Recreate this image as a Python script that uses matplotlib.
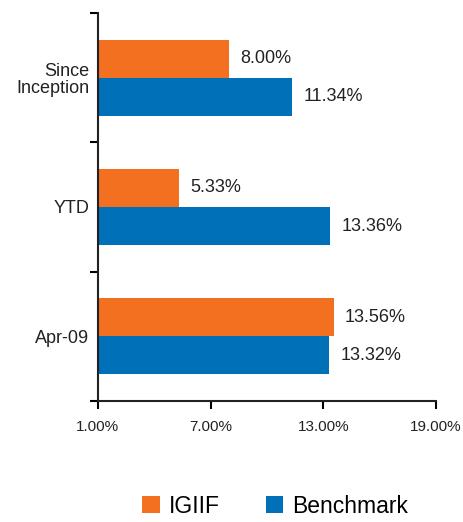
import matplotlib.pyplot as plt
import numpy as np

plt.rcParams['font.family'] = ['Liberation Sans', 'DejaVu Sans']

categories = ['Since\nInception', 'YTD', 'Apr-09']
igiif = [8.00, 5.33, 13.56]
benchmark = [11.34, 13.36, 13.32]
xticks = [1, 7, 13, 19]

orange = '#F37021'
blue = '#0070B8'

fig = plt.figure(figsize=(4.64, 5.22), dpi=100)
ax = fig.add_axes([0.211, 0.232, 0.729, 0.743])

y = np.arange(len(categories))
h = 0.295
b1 = ax.barh(y - h / 2, np.array(igiif) - 1, h, left=1, color=orange, label='IGIIF')
b2 = ax.barh(y + h / 2, np.array(benchmark) - 1, h, left=1, color=blue, label='Benchmark')

ax.bar_label(b1, labels=['%.2f%%' % v for v in igiif], padding=8, fontsize=13, color='#222222')
ax.bar_label(b2, labels=['%.2f%%' % v for v in benchmark], padding=8, fontsize=13, color='#222222')

ax.set_xlim(1, 19)
ax.set_ylim(len(categories) - 0.5, -0.5)
ax.set_xticks(xticks)
ax.set_xticklabels(['%.2f%%' % v for v in xticks], fontsize=11, color='#222222')
ax.set_yticks(y)
ax.set_yticklabels(categories, fontsize=13, color='#222222', linespacing=1.05)
ax.set_yticks(np.arange(len(categories) + 1) - 0.5, minor=True)
ax.tick_params(axis='y', which='major', length=0, pad=6)
ax.tick_params(axis='y', which='minor', length=6, width=1.5, direction='out')
ax.tick_params(axis='x', length=6, width=1.5, direction='out', pad=8)

for s in ['top', 'right']:
    ax.spines[s].set_visible(False)
for s in ['left', 'bottom']:
    ax.spines[s].set_linewidth(1.5)
    ax.spines[s].set_color('#222222')

fig.legend(loc='center', bbox_to_anchor=(0.593, 0.03), ncol=2, frameon=False,
           fontsize=16.5, handlelength=0.75, handleheight=0.75, handletextpad=0.4,
           columnspacing=2.0)

fig.savefig('out.png', dpi=100)
